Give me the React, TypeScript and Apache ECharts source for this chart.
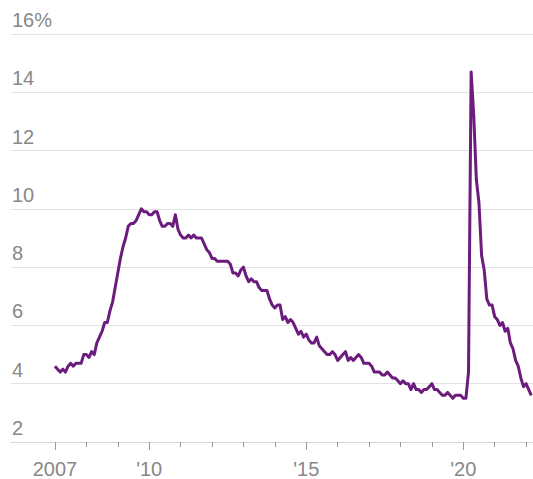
import React, { useEffect, useRef } from "react";
import * as echarts from "echarts";

// Monthly US unemployment rate (%), Jan–Dec of each year
const rate2007 = [4.6, 4.5, 4.4, 4.5, 4.4, 4.6, 4.7, 4.6, 4.7, 4.7, 4.7, 5.0];
const rate2008 = [5.0, 4.9, 5.1, 5.0, 5.4, 5.6, 5.8, 6.1, 6.1, 6.5, 6.8, 7.3];
const rate2009 = [7.8, 8.3, 8.7, 9.0, 9.4, 9.5, 9.5, 9.6, 9.8, 10.0, 9.9, 9.9];
const rate2010 = [9.8, 9.8, 9.9, 9.9, 9.6, 9.4, 9.4, 9.5, 9.5, 9.4, 9.8, 9.3];
const rate2011 = [9.1, 9.0, 9.0, 9.1, 9.0, 9.1, 9.0, 9.0, 9.0, 8.8, 8.6, 8.5];
const rate2012 = [8.3, 8.3, 8.2, 8.2, 8.2, 8.2, 8.2, 8.1, 7.8, 7.8, 7.7, 7.9];
const rate2013 = [8.0, 7.7, 7.5, 7.6, 7.5, 7.5, 7.3, 7.2, 7.2, 7.2, 6.9, 6.7];
const rate2014 = [6.6, 6.7, 6.7, 6.2, 6.3, 6.1, 6.2, 6.1, 5.9, 5.7, 5.8, 5.6];
const rate2015 = [5.7, 5.5, 5.4, 5.4, 5.6, 5.3, 5.2, 5.1, 5.0, 5.0, 5.1, 5.0];
const rate2016 = [4.8, 4.9, 5.0, 5.1, 4.8, 4.9, 4.8, 4.9, 5.0, 4.9, 4.7, 4.7];
const rate2017 = [4.7, 4.6, 4.4, 4.4, 4.4, 4.3, 4.3, 4.4, 4.3, 4.2, 4.2, 4.1];
const rate2018 = [4.0, 4.1, 4.0, 4.0, 3.8, 4.0, 3.8, 3.8, 3.7, 3.8, 3.8, 3.9];
const rate2019 = [4.0, 3.8, 3.8, 3.7, 3.6, 3.6, 3.7, 3.6, 3.5, 3.6, 3.6, 3.6];
const rate2020 = [3.5, 3.5, 4.4, 14.7, 13.2, 11.0, 10.2, 8.4, 7.9, 6.9, 6.7, 6.7];
const rate2021 = [6.3, 6.2, 6.0, 6.1, 5.8, 5.9, 5.4, 5.2, 4.8, 4.6, 4.2, 3.9];
const rate2022 = [4.0, 3.8, 3.6];

const yearlyRates: [number, number[]][] = [
  [2007, rate2007], [2008, rate2008], [2009, rate2009], [2010, rate2010],
  [2011, rate2011], [2012, rate2012], [2013, rate2013], [2014, rate2014],
  [2015, rate2015], [2016, rate2016], [2017, rate2017], [2018, rate2018],
  [2019, rate2019], [2020, rate2020], [2021, rate2021], [2022, rate2022],
];

const majorTickYears = [2007, 2010, 2015, 2020];
const minorTickYears = [2008, 2009, 2011, 2012, 2013, 2014, 2016, 2017, 2018, 2019, 2021, 2022];
const yTicks = [2, 4, 6, 8, 10, 12, 14, 16];

export default function App() {
  const ref = useRef<HTMLDivElement>(null);
  useEffect(() => {
    if (!ref.current) return;
    const chart = echarts.init(ref.current, null, { renderer: "svg" });
    const data: [number, number][] = [];
    yearlyRates.forEach(([y, arr]) => {
      arr.forEach((v, m) => data.push([y + m / 12, v]));
    });
    const font = "'Liberation Sans', Arial, Helvetica, sans-serif";
    const xMin = 2005.6;
    const xMax = 2022.22;
    chart.setOption({
      animation: false,
      grid: { left: 11, right: 0, top: 34, bottom: 32, containLabel: false },
      xAxis: [
        {
          type: "value",
          min: xMin,
          max: xMax,
          position: "bottom",
          axisLine: { show: true, lineStyle: { color: "#d6d6d6", width: 1 } },
          axisTick: {
            show: true,
            customValues: majorTickYears,
            length: 8,
            lineStyle: { color: "#9a9a9a", width: 1 },
          },
          axisLabel: {
            show: true,
            customValues: majorTickYears,
            formatter: (v: number) => (v === 2007 ? "2007" : "'" + String(Math.round(v)).slice(2)),
            color: "#888888",
            fontSize: 20,
            lineHeight: 20,
            fontFamily: font,
            margin: 17,
          },
          splitLine: { show: false },
        },
        {
          type: "value",
          min: xMin,
          max: xMax,
          position: "bottom",
          offset: 0,
          axisLine: { show: false },
          axisTick: {
            show: true,
            customValues: minorTickYears,
            length: 5,
            lineStyle: { color: "#9a9a9a", width: 1 },
          },
          axisLabel: { show: false },
          splitLine: { show: false },
        },
      ],
      yAxis: {
        type: "value",
        min: 2,
        max: 16,
        interval: 2,
        axisLine: { show: false },
        axisTick: { show: false },
        splitLine: { show: true, lineStyle: { color: "#e2e2e2", width: 1 } },
        axisLabel: {
          inside: true,
          margin: 1,
          align: "left",
          verticalAlign: "bottom",
          padding: [0, 0, 4, 0],
          color: "#888888",
          fontSize: 20,
          lineHeight: 20,
          fontFamily: font,
          formatter: (v: number) => (v === yTicks[yTicks.length - 1] ? v + "%" : String(v)),
        },
      },
      series: [
        {
          type: "line",
          data,
          showSymbol: false,
          symbol: "none",
          lineStyle: { color: "#6b1c7d", width: 3, join: "round" },
          clip: true,
        },
      ],
    });
    return () => chart.dispose();
  }, []);
  return (
    <div
      ref={ref}
      style={{ position: "absolute", left: 0, top: 0, width: 533, height: 479 }}
    />
  );
}
